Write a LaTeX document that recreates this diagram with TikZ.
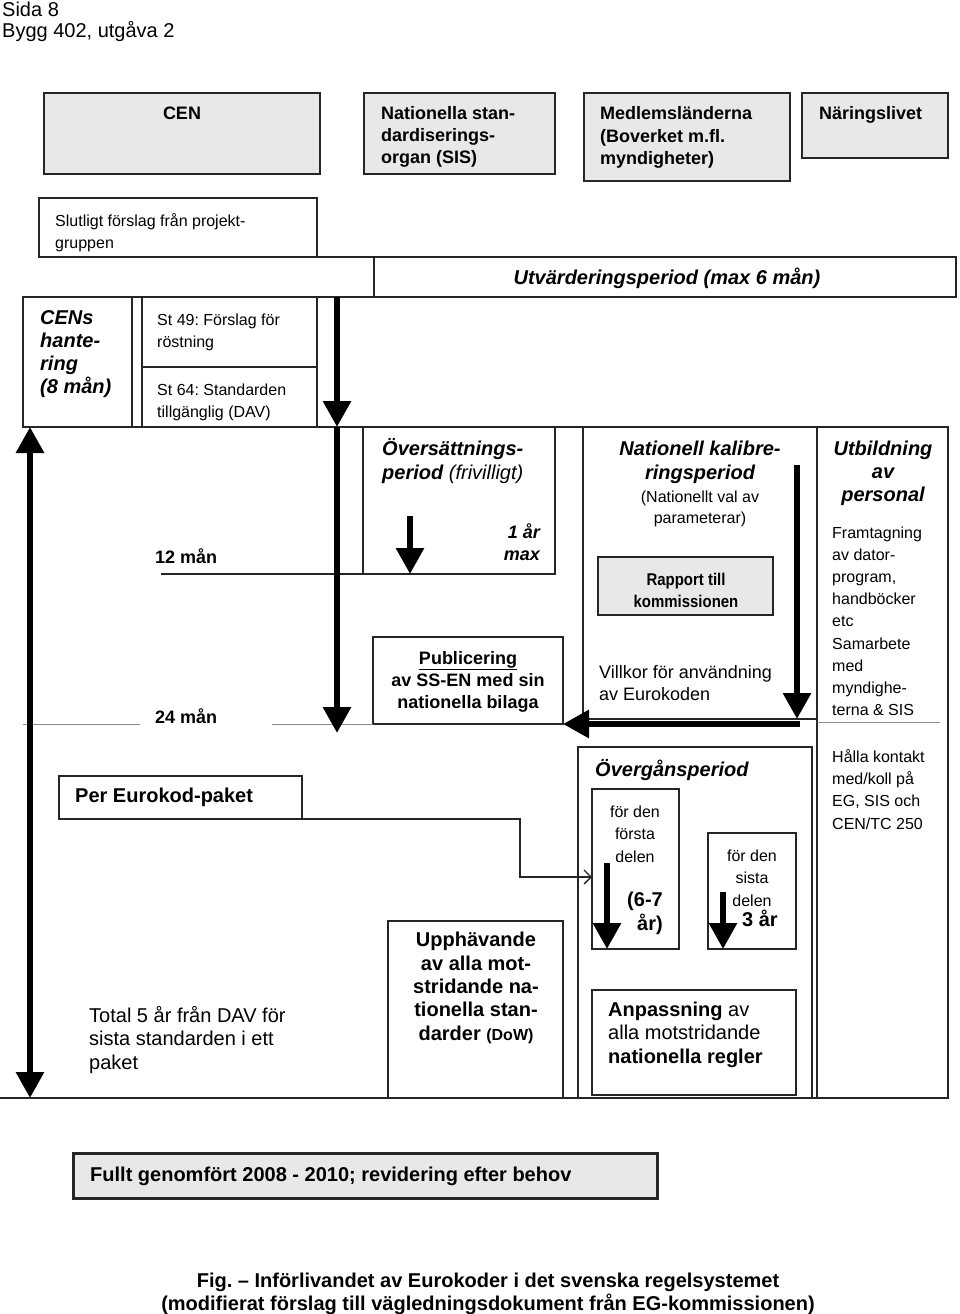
\documentclass[tikz,border=0pt]{standalone}
\usepackage{fontspec}
\setmainfont{Liberation Sans}
\newfontfamily\narrowfont[FakeStretch=0.88]{Liberation Sans}
\usetikzlibrary{arrows.meta}

\newcommand\setfs[2]{\fontsize{#1}{#2}\selectfont}
\frenchspacing

\begin{document}
\begin{tikzpicture}[x=1pt, y=-1pt,
		box/.style={draw=black!85, line width=1.3pt, inner sep=0pt, outer sep=0pt, anchor=north west},
		grey/.style={box, fill=black!9},
		wh/.style 2 args={minimum width=#1pt, minimum height=#2pt},
		txt/.style={inner sep=0pt, anchor=base west, align=left},
		ctxt/.style={inner sep=0pt, anchor=base, align=center},
		rtxt/.style={inner sep=0pt, anchor=base east, align=right},
		bline/.style={draw=black!85, line width=1.3pt},
		gline/.style={draw=black!45, line width=1pt},
		bigtip/.tip={Triangle[width=27pt, length=26pt]}]
		\useasboundingbox (0,0) rectangle (960,1314);
		
		% text nodes sit on the baseline of their last line
		\node[txt, font=\setfs{20}{21}] (sida) at (2,38) {Sida 8\\Bygg 402, utgåva 2};
		
		% header boxes
		\node[grey, wh={276}{81}] (cen) at (44,93) {};
		\node[grey, wh={191}{81}] (sis) at (364,93) {};
		\node[grey, wh={206}{88}] (medl) at (584,93) {};
		\node[grey, wh={146}{65}] (naring) at (802,93) {};
		\node[ctxt, font=\setfs{18}{22}\bfseries] (cen text) at (182,119.5) {CEN};
		\node[txt, font=\setfs{18}{22}\bfseries] (sis text) at (381,163.5) {Nationella stan-\\dardiserings-\\organ (SIS)};
		\node[txt, font=\setfs{18}{22.5}\bfseries] (medl text) at (600,164.5) {Medlemsländerna\\(Boverket m.fl.\\myndigheter)};
		\node[txt, font=\setfs{18}{22}\bfseries] (naring text) at (819,119.5) {Näringslivet};
		
		% CEN rows
		\node[box, wh={278}{59}] (slut) at (39,198) {};
		\node[box, wh={582}{40}] (utv) at (374,257) {};
		\node[box, wh={109}{130}] (cens) at (23,297) {};
		\node[box, wh={175}{70}] (st49) at (142,297) {};
		\node[box, wh={175}{60}] (st64) at (142,367) {};
		\draw[bline, line width=2pt] (slut.south west) -- (slut.south east);
		\draw[bline] (slut.south east) -- (utv.north west);
		\draw[bline] (cens.north west) -- (utv.south west);
		\node[txt, font=\setfs{16}{22}] (slut text) at (55,248) {Slutligt förslag från projekt-\\gruppen};
		\node[ctxt, font=\setfs{20}{23}\bfseries\itshape] (utv text) at (667,284) {Utvärderingsperiod (max 6 mån)};
		\node[txt, font=\setfs{20}{23}\bfseries\itshape] (cens text) at (40,393) {CENs\\hante-\\ring\\(8 mån)};
		\node[txt, font=\setfs{16}{22}] (st49 text) at (157,347) {St 49: Förslag för\\röstning};
		\node[txt, font=\setfs{16}{22}] (st64 text) at (157,417) {St 64: Standarden\\tillgänglig (DAV)};
		
		% national rows
		\node[box, wh={192}{147}] (overs) at (363,427) {};
		\node[box, wh={234}{292}] (kalib) at (583,427) {};
		\node[grey, wh={175}{58}] (rapport) at (598,557) {};
		\node[box, wh={131}{671}] (utbild) at (817,427) {};
		\node[box, wh={190}{87}] (publ) at (373,637) {};
		\draw[bline] (cens.south west) -- (utbild.north east);
		
		\coordinate (twelve) at (161,574);
		\coordinate (mark a) at (23,724);
		\coordinate (mark b) at (140,724);
		\coordinate (mark c) at (272,724);
		\coordinate (cut) at (817,722);
		\draw[bline] (twelve) -- (overs.south west);
		\draw[gline] (mark a) -- (mark b) (mark c) -- (publ.south west);
		\draw[gline] (cut) -- ++(123,0);
		
		\node[txt, font=\setfs{20}{24}\itshape] (overs text) at (382,479) {\textbf{Översättnings-}\\\textbf{period} (frivilligt)};
		\node[rtxt, font=\setfs{18}{22}\bfseries\itshape] (year text) at (540,560) {1 år\\max};
		\node[txt, font=\setfs{18}{22}\bfseries] (m12) at (155,563) {12 mån};
		\node[txt, font=\setfs{18}{22}\bfseries] (m24) at (155,723) {24 mån};
		\node[ctxt, font=\setfs{18}{22}\bfseries] (publ text) at (468,708) {\underline{Publicering}\\av SS-EN med sin\\nationella bilaga};
		\node[ctxt, font=\setfs{20}{24}\bfseries\itshape] (kalib text) at (700,479) {Nationell kalibre-\\ringsperiod};
		\node[ctxt, font=\setfs{16}{21}] (param text) at (700,523) {(Nationellt val av\\parameterar)};
		\node[ctxt, font=\narrowfont\setfs{17}{22}\bfseries] (rapport text) at (686,607) {Rapport till\\kommissionen};
		\node[txt, font=\setfs{18}{22}] (villkor text) at (599,700) {Villkor för användning\\av Eurokoden};
		\node[ctxt, font=\setfs{20}{23}\bfseries\itshape] (utbild text) at (883,501) {Utbildning\\av\\personal};
		\node[txt, font=\setfs{16}{22.2}] (dator text) at (832,715.6) {Framtagning\\av dator-\\program,\\handböcker\\etc\\Samarbete\\med\\myndighe-\\terna \& SIS};
		\node[txt, font=\setfs{16}{22.3}] (kontakt text) at (832,829) {Hålla kontakt\\med/koll på\\EG, SIS och\\CEN/TC 250};
		
		% package rows
		\node[box, wh={243}{43}] (perek) at (59,776) {};
		\node[box, wh={175}{177}] (upph) at (388,921) {};
		\node[box, wh={234}{351}] (overg) at (578,747) {};
		\node[box, wh={87}{160}] (forsta) at (592,789) {};
		\node[box, wh={88}{116}] (sista) at (708,833) {};
		\node[box, wh={204}{105}] (anpass) at (592,990) {};
		\coordinate (base) at (0,1098);
		\draw[bline] (base) -- (utbild.south east);
		\draw[bline, -{Straight Barb[length=7pt, width=14pt]}] (perek.south east) -- ++(218,0) |- ([yshift=-8pt]forsta.west);
		
		\node[txt, font=\setfs{20}{23}\bfseries] (perek text) at (75,802) {Per Eurokod-paket};
		\node[txt, font=\setfs{20}{23}\bfseries\itshape] (overg text) at (595,776) {Övergånsperiod};
		\node[ctxt, font=\setfs{16}{22.4}] (forsta text) at (635,862) {för den\\första\\delen};
		\node[ctxt, font=\setfs{16}{22.4}] (sista text) at (752,906) {för den\\sista\\delen};
		\node[rtxt, font=\setfs{20}{24}\bfseries] (first years) at (663,930) {(6-7\\år)};
		\node[txt, font=\setfs{20}{24}\bfseries] (last years) at (742,926) {3 år};
		\node[ctxt, font=\setfs{20}{23.3}\bfseries] (upph text) at (476,1040) {Upphävande\\av alla mot-\\stridande na-\\tionella stan-\\darder {\setfs{16}{20}(DoW)}};
		\node[txt, font=\setfs{20}{23.5}] (total text) at (89,1069) {Total 5 år från DAV för\\sista standarden i ett\\paket};
		\node[txt, font=\setfs{20}{23.5}] (anpass text) at (608,1063) {\textbf{Anpassning} av\\alla motstridande\\\textbf{nationella regler}};
		
		% bottom
		\node[grey, wh={584}{45}, line width=3pt] (fullt) at (73,1153) {};
		\node[txt, font=\setfs{20}{23}\bfseries] (fullt text) at (90,1181) {Fullt genomfört 2008 - 2010; revidering efter behov};
		\node[ctxt, font=\setfs{20}{23}\bfseries] (fig) at (488,1310) {Fig. – Införlivandet av Eurokoder i det svenska regelsystemet\\(modifierat förslag till vägledningsdokument från EG-kommissionen)};
		
		% arrows
		\coordinate (left top) at (30,427);
		\coordinate (eval top) at (337,297);
		\coordinate (eval end) at (337,733);
		\coordinate (trans top) at (410,516);
		\coordinate (cal top) at (797,465);
		\coordinate (cal corner) at (800,724);
		\coordinate (first top) at (607,863);
		\coordinate (last top) at (723,892);
		\begin{scope}[line width=6pt]
			\draw[bigtip-bigtip] (left top) -- (left top |- base);
			\draw[-bigtip] (eval top) -- (eval top |- cens.south);
			\draw[-bigtip] (eval top |- cens.south) -- (eval end);
			\draw[-bigtip] (trans top) -- (trans top |- overs.south);
			\draw[-bigtip] (cal top) -- (cal top |- kalib.south);
			\draw[-bigtip] (cal corner) -- (publ.south east);
			\draw[-bigtip] (first top) -- (first top |- forsta.south);
			\draw[-bigtip] (last top) -- (last top |- sista.south);
		\end{scope}
	\end{tikzpicture}
\end{document}
